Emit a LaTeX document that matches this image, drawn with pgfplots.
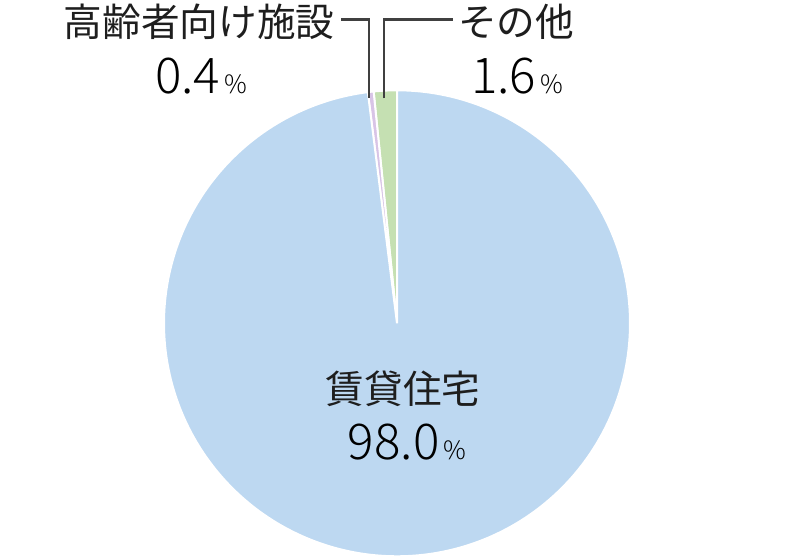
\documentclass[border=0pt]{standalone}
\usepackage{pgfplots}
\usepackage{pgfplotstable}
\pgfplotsset{compat=1.18}
\usepackage{fontspec}
\setmainfont{Noto Sans CJK JP}
\newfontfamily\numfont{Noto Sans CJK JP Light}
\definecolor{cblue}{RGB}{189,216,241}
\definecolor{cgreen}{RGB}{197,224,178}
\definecolor{cpink}{RGB}{216,196,230}
\definecolor{cline}{RGB}{64,64,64}
\definecolor{ctext}{RGB}{30,30,30}
\pgfplotstableread{
name value
chintai 98.0
koureisha 0.4
sonota 1.6
}\piedata
\begin{document}%
\begin{tikzpicture}
\pgfplotstablegetelem{0}{value}\of\piedata \let\vA\pgfplotsretval
\pgfplotstablegetelem{1}{value}\of\piedata \let\vB\pgfplotsretval
\pgfplotstablegetelem{2}{value}\of\piedata \let\vC\pgfplotsretval
\pgfmathsetmacro{\aA}{90}
\pgfmathsetmacro{\aB}{\aA+3.6*\vC}
\pgfmathsetmacro{\aC}{\aB+3.6*\vB}
\pgfmathsetmacro{\aD}{\aC+3.6*\vA}
\begin{axis}[
  x=0.75pt, y=0.75pt,
  xmin=0, xmax=796, ymin=0, ymax=558,
  hide axis, clip=false, enlargelimits=false,
]
% invisible frame to fix the picture size
\addplot[draw=none, mark=none] coordinates {(0,0) (796,558)};
\def\cx{397}\def\cy{236}\def\r{233}
\addplot[fill=cgreen, draw=white, line width=1.5pt, domain=\aA:\aB, samples=20, variable=\t]
  ({\cx+\r*cos(\t)},{\cy+\r*sin(\t)}) -- (axis cs:\cx,\cy) -- cycle;
\addplot[fill=cpink, draw=white, line width=1.5pt, domain=\aB:\aC, samples=10, variable=\t]
  ({\cx+\r*cos(\t)},{\cy+\r*sin(\t)}) -- (axis cs:\cx,\cy) -- cycle;
\addplot[fill=cblue, draw=white, line width=1.5pt, domain=\aC:\aD, samples=300, variable=\t]
  ({\cx+\r*cos(\t)},{\cy+\r*sin(\t)}) -- (axis cs:\cx,\cy) -- cycle;
% leader lines
\addplot[cline, line width=2.2pt] coordinates {(341,540) (369,540) (369,461)};
\addplot[cline, line width=2.2pt] coordinates {(384,461) (384,540) (453,540)};
% labels
\node[text=ctext, font=\fontsize{29}{30}\selectfont] at (axis cs:199,537) {高齢者向け施設};
\node[text=black, font=\numfont\fontsize{37}{38}\selectfont] at (axis cs:201,483) {0.4\hspace{3pt}{\fontsize{19}{20}\selectfont\%}};
\node[text=ctext, font=\fontsize{29}{30}\selectfont] at (axis cs:516,537) {その他};
\node[text=black, font=\numfont\fontsize{37}{38}\selectfont] at (axis cs:517,483) {1.6\hspace{3pt}{\fontsize{19}{20}\selectfont\%}};
\node[text=ctext, font=\fontsize{29}{30}\selectfont] at (axis cs:403,171) {賃貸住宅};
\node[text=black, font=\numfont\fontsize{37}{38}\selectfont] at (axis cs:407,117) {98.0\hspace{3pt}{\fontsize{19}{20}\selectfont\%}};
\end{axis}
\end{tikzpicture}%
\end{document}
